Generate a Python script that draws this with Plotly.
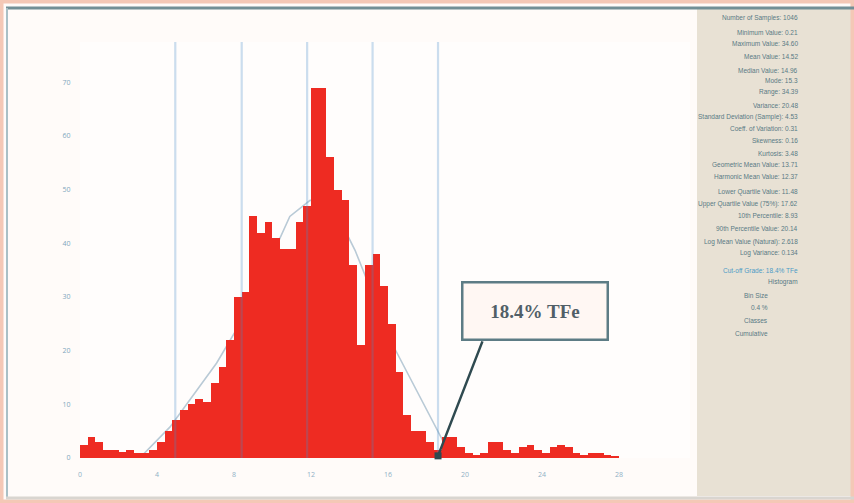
import plotly.graph_objects as go

# ---------------- data ----------------
bin_width = 0.4          # % TFe per class
bin_start = 0.0
counts = [2.5, 4, 3, 1.5, 1.5, 1.2, 1.5, 1, 1, 1.5,
          3, 5, 7, 9, 10, 11, 10.5, 14, 17, 22,
          30, 31, 45, 42, 44, 41, 39, 39, 44, 47,
          69, 69, 56, 50, 48, 36, 21, 36, 38, 32,
          25, 16, 8, 5, 5, 3, 1.5, 4, 4, 2,
          1, 0.5, 1, 3, 3, 1.5, 1, 2, 2.5, 1.5,
          1, 2, 2.5, 2, 1, 0.5, 1, 1, 0.5, 0.3]
curve_x = [3.1, 4.68, 7.1, 8.57, 10.9, 11.95, 12.99, 14.29, 16.26, 18.55, 19.32]
curve_y = [0, 5.8, 17.7, 26.6, 45, 48, 48, 38.7, 21, 5.2, 0]
cutoffs = [4.95, 8.4, 11.8, 15.2, 18.6]
x_ticks = [0, 4, 8, 12, 16, 20, 24, 28]
y_ticks = [0, 10, 20, 30, 40, 50, 60, 70]
callout_text = "18.4% TFe"
callout_x = 18.6
stats_labels = [
    "Number of Samples: 1046", "Minimum Value: 0.21", "Maximum Value: 34.60",
    "Mean Value: 14.52", "Median Value: 14.96", "Mode: 15.3",
    "Range: 34.39", "Variance: 20.48", "Standard Deviation (Sample): 4.53",
    "Coeff. of Variation: 0.31", "Skewness: 0.16", "Kurtosis: 3.48",
    "Geometric Mean Value: 13.71", "Harmonic Mean Value: 12.37",
    "Lower Quartile Value: 11.48", "Upper Quartile Value (75%): 17.62",
    "10th Percentile: 8.93", "90th Percentile Value: 20.14",
    "Log Mean Value (Natural): 2.618", "Log Variance: 0.134",
    "Cut-off Grade: 18.4% TFe", "Histogram", "Bin Size", "0.4 %", "Classes", "Cumulative",
]
stats_rows_y = [18, 32, 43, 57, 70, 80, 92, 105, 117, 128, 140, 153, 165, 177,
                192, 204, 215, 228, 242, 253, 270, 282, 295, 307, 320, 333]

# ---------------- geometry helpers (pixels -> paper) ----------------
W, H = 854, 503
L, R, T, B = 80, 690, 42, 458
pw, ph = R - L, B - T
X_MAX, Y_MAX = 31.69, 77.5
def px(x):
    return (x - L) / pw
def py(y):
    return (B - y) / ph

centers = [bin_start + bin_width * (i + 0.5) for i in range(len(counts))]

fig = go.Figure()
fig.add_trace(go.Scatter(x=curve_x, y=curve_y, mode="lines",
                         line=dict(color="#b9cad6", width=1.6),
                         hoverinfo="skip", showlegend=False, zorder=0))
fig.add_trace(go.Bar(x=centers, y=counts, width=bin_width,
                     marker=dict(color="#ee2b22", line=dict(width=0)),
                     showlegend=False, zorder=1))

shapes = []
shapes.append(dict(type="rect", xref="paper", yref="paper", layer="below",
                   x0=px(697), x1=px(851), y0=py(496), y1=py(9),
                   fillcolor="#e8e1d4", line=dict(width=0)))
shapes.append(dict(type="rect", xref="paper", yref="paper", layer="above",
                   x0=px(1.5), x1=px(852.5), y0=py(501.5), y1=py(1.5),
                   fillcolor="rgba(0,0,0,0)", line=dict(color="#f4c8b6", width=4)))
shapes.append(dict(type="line", xref="paper", yref="paper", layer="above",
                   x0=px(6), x1=px(854), y0=py(8), y1=py(8),
                   line=dict(color="#728f96", width=3)))
shapes.append(dict(type="line", xref="paper", yref="paper", layer="above",
                   x0=px(7), x1=px(7), y0=py(8), y1=py(497),
                   line=dict(color="#a9c0c6", width=2)))
shapes.append(dict(type="line", xref="paper", yref="paper", layer="above",
                   x0=px(6), x1=px(854), y0=py(498), y1=py(498),
                   line=dict(color="#d9d5d0", width=3)))
for c in cutoffs:
    shapes.append(dict(type="line", xref="x", yref="paper", layer="above",
                       x0=c, x1=c, y0=0, y1=1,
                       line=dict(color="rgba(70,140,200,0.28)", width=2.2)))

annotations = []
for idx, (lab, yy) in enumerate(zip(stats_labels, stats_rows_y)):
    right = 800 if idx < 22 else 770
    col = "#4b9bc6" if idx == 20 else "#587a84"
    annotations.append(dict(text=lab, xref="paper", yref="paper",
                            x=px(right), y=py(yy), xanchor="right", yanchor="middle",
                            showarrow=False, font=dict(size=6.5, color=col,
                                                       family="Liberation Sans")))
annotations.append(dict(text="<b>" + callout_text + "</b>", xref="x", yref="y",
                        x=(535 - L) / pw * X_MAX, y=(B - 311) / ph * Y_MAX,
                        showarrow=False, width=141, height=53,
                        bgcolor="#fff7f3", bordercolor="#5d7c85", borderwidth=2.5,
                        font=dict(size=19, color="#515f67", family="Liberation Serif")))
annotations.append(dict(text="", xref="x", yref="y", x=callout_x, y=0.4,
                        showarrow=True, axref="pixel", ayref="pixel",
                        ax=483 - 438, ay=340 - 456,
                        arrowhead=7, arrowsize=0.7, arrowwidth=2.5,
                        arrowcolor="#2f4a50", standoff=0))

fig.update_layout(
    width=W, height=H,
    margin=dict(l=L, r=W - R, t=T, b=H - B, pad=0),
    paper_bgcolor="#fffbf9", plot_bgcolor="#fffdfc",
    bargap=0, shapes=shapes, annotations=annotations,
    xaxis=dict(range=[0, X_MAX], tickvals=x_ticks, showgrid=False, zeroline=False,
               showline=True, linecolor="#f0b4a4", linewidth=3,
               ticks="", tickfont=dict(size=7, color="#8fb1c6"), ticklabelstandoff=8),
    yaxis=dict(range=[0, Y_MAX], tickvals=y_ticks, showgrid=False, zeroline=False,
               showline=True, linecolor="#d4e5f0", linewidth=2,
               ticks="", tickfont=dict(size=7, color="#7fa6bd"), ticklabelstandoff=6),
)

fig.write_html("out.html", config={"displayModeBar": False},
               post_script="document.body.style.margin='0';document.body.style.overflow='hidden';")
